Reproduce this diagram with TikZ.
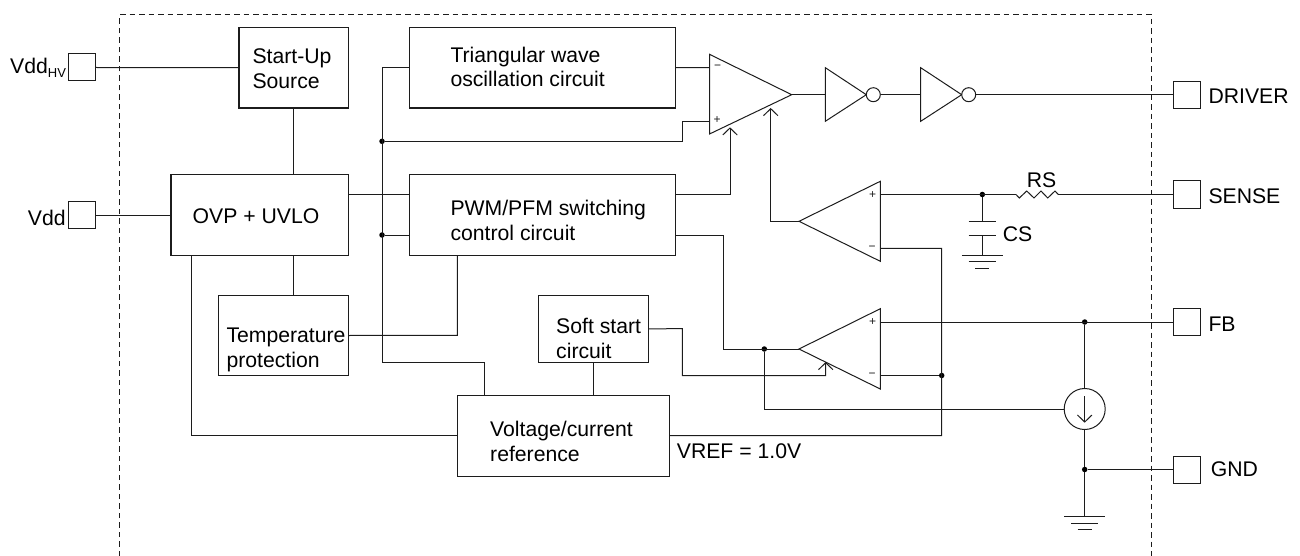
\documentclass[tikz,border=0pt]{standalone}
\usepackage{fontspec}
\setmainfont{Liberation Sans}
\usetikzlibrary{arrows.meta,calc}
\definecolor{ink}{HTML}{1C1C1C}
\tikzset{
  wire/.style={draw=ink,line width=1pt},
  boxn/.style={draw=ink,line width=1.05pt,rectangle,inner sep=0pt,minimum width=#1},
  padn/.style={draw=ink,line width=1pt,rectangle,inner sep=0pt,minimum width=27pt,minimum height=27pt},
  txt/.style={inner sep=0pt,anchor=base west,align=left,text=black,font=\fontsize{21.2}{24.8}\selectfont},
  sgn/.style={inner sep=0pt,text=ink,font=\fontsize{12}{13}\selectfont},
  dotn/.style={circle,fill=black,draw=none,inner sep=0pt,minimum size=5.5pt},
  bub/.style={circle,draw=ink,line width=1pt,fill=white,inner sep=0pt,minimum size=14pt},
  barb/.style={-{Straight Barb[length=7pt,width=14.5pt,line width=1pt]}},
}
\begin{document}
\begin{tikzpicture}[x=1pt,y=-1pt]
\useasboundingbox (0,0) rectangle (1300,556);
% package boundary
\coordinate (bl) at (119.5,556);
\coordinate (tl) at (119.5,15);
\coordinate (tr) at (1151.5,15);
\coordinate (br) at (1151.5,556);
\draw[draw=ink,line width=1pt,dash pattern=on 5.5pt off 4pt] (bl) -- (tl) -- (tr) -- (br);
% blocks
\node[boxn=109.5pt,minimum height=80.5pt] (start) at (293.75,67.75) {};
\node[boxn=177.5pt,minimum height=80.5pt] (ovp) at (259.75,215) {};
\node[boxn=266pt,minimum height=80.5pt] (osc) at (542.3,67.75) {};
\node[boxn=266pt,minimum height=80.5pt] (pwm) at (542.3,215) {};
\node[boxn=130pt,minimum height=80.5pt] (temp) at (283.3,335.5) {};
\node[boxn=109.6pt,minimum height=67pt] (soft) at (593.5,328.8) {};
\node[boxn=211.7pt,minimum height=80.7pt] (ref) at (563.2,435.7) {};
% block texts (multi-line texts sit on the baseline of their last line)
\node[txt] (tstart) at (252.3,88.7) {Start-Up\\Source};
\node[txt] (tovp) at (192.5,223.3) {OVP + UVLO};
\node[txt] (tosc) at (450.3,87) {Triangular wave\\oscillation circuit};
\node[txt] (tpwm) at (450.3,240) {PWM/PFM switching\\control circuit};
\node[txt] (ttemp) at (226.3,367) {Temperature\\protection};
\node[txt] (tsoft) at (556,358) {Soft start\\circuit};
\node[txt] (tref) at (490,461.5) {Voltage/current\\reference};
\node[txt] (tvref) at (676.7,458.7) {VREF = 1.0V};
% pads
\node[padn] (phv) at (82,67.5) {};
\node[padn] (pvdd) at (82,215) {};
\node[padn] (pdrv) at (1187,94.7) {};
\node[padn] (psen) at (1187,194.5) {};
\node[padn] (pfb) at (1187,322) {};
\node[padn] (pgnd) at (1187,469.5) {};
\node[txt] (lhv) at (10,74) {Vdd{\fontsize{13}{14}\selectfont\raisebox{-3.5pt}{HV}}};
\node[txt] (lvdd) at (27.7,225.3) {Vdd};
\node[txt] (ldrv) at (1208.3,104) {DRIVER};
\node[txt] (lsen) at (1208.3,203.3) {SENSE};
\node[txt] (lfb) at (1208.3,331.7) {FB};
\node[txt] (lgnd) at (1210.7,476) {GND};
\node[txt] (lrs) at (1026.7,187.3) {RS};
\node[txt] (lcs) at (1002.7,241) {CS};
% comparators and inverters
\coordinate (a1t) at (709.5,54.3); \coordinate (a1b) at (709.5,134); \coordinate (a1o) at (791.7,94.7);
\coordinate (a1m) at (709.5,67.6); \coordinate (a1p) at (709.5,121.3);
\draw[wire] (a1t) -- (a1b) -- (a1o) -- cycle;
\node[sgn] (a1ms) at (717.5,67.4) {\textminus};
\node[sgn] (a1ps) at (717,120.5) {+};
\coordinate (a2t) at (880.3,181.3); \coordinate (a2b) at (880.3,261.3); \coordinate (a2o) at (799,221.3);
\coordinate (a2p) at (880.3,194.5); \coordinate (a2m) at (880.3,248.3);
\draw[wire] (a2t) -- (a2b) -- (a2o) -- cycle;
\node[sgn] (a2ps) at (872.5,194.6) {+};
\node[sgn] (a2ms) at (872,248) {\textminus};
\coordinate (a3t) at (880.3,308.7); \coordinate (a3b) at (880.3,389); \coordinate (a3o) at (799,349);
\coordinate (a3p) at (880.3,322); \coordinate (a3m) at (880.3,375.5);
\draw[wire] (a3t) -- (a3b) -- (a3o) -- cycle;
\node[sgn] (a3ps) at (872.5,322) {+};
\node[sgn] (a3ms) at (872,375.3) {\textminus};
\coordinate (i1i) at (825.3,94.7);
\draw[wire] (825.3,67.7) -- (825.3,121.3) -- (866.3,94.7) -- cycle;
\node[bub] (b1) at (873.3,94.7) {};
\coordinate (i2i) at (920.7,94.7);
\draw[wire] (920.7,67.7) -- (920.7,121.3) -- (961.7,94.7) -- cycle;
\node[bub] (b2) at (968.7,94.7) {};
% dots
\node[dotn] (d1) at (382,141.3) {};
\node[dotn] (d2) at (382,235) {};
\node[dotn] (d3) at (764.3,349) {};
\node[dotn] (d4) at (941.7,375.5) {};
\node[dotn] (d5) at (982.3,194.5) {};
\node[dotn] (d6) at (1084.7,322) {};
\node[dotn] (d7) at (1084.7,469.5) {};
% current source
\node[circle,draw=ink,line width=1pt,inner sep=0pt,minimum size=41pt] (cs) at (1084.7,409) {};
\coordinate (csa) at (1084.7,396);
\coordinate (csb) at (1084.7,422.7);
\draw[wire,barb] (csa) -- (csb);
% left side wires
\draw[wire] (phv.east) -- (start.west);
\draw[wire] (pvdd.east) -- (ovp.west);
\draw[wire] (start.south) -- (ovp.north -| start.south);
\draw[wire] (ovp.south -| start.south) -- (temp.north -| start.south);
\coordinate (rfl) at (191,435.7);
\draw[wire] (ovp.south -| rfl) -- (rfl) -- (ref.west);
\coordinate (ovpo) at (348.5,194.5);
\draw[wire] (ovpo) -- (pwm.west |- ovpo);
% bus
\coordinate (bust) at (382,67.75);
\coordinate (busb) at (382,362.3);
\coordinate (reft) at (484.3,362.3);
\draw[wire] (osc.west) -- (bust) -- (busb) -- (reft) -- (reft |- ref.north);
\draw[wire] (d2) -- (pwm.west |- d2);
\coordinate (a1pb) at (682.3,141.3);
\draw[wire] (d1) -- (a1pb) -- (a1pb |- a1p) -- (a1p);
\draw[wire] (osc.east) -- (a1m);
\coordinate (pwmb) at (457.3,335.3);
\draw[wire] (pwm.south -| pwmb) -- (pwmb) -- (temp.east);
\draw[wire] (soft.south) -- (ref.north -| soft.south);
% output chain
\draw[wire] (a1o) -- (i1i);
\draw[wire] (b1.east) -- (i2i);
\draw[wire] (b2.east) -- (pdrv.west);
% control arrows
\coordinate (ar1b) at (730,194.5);
\coordinate (ar1t) at (730,127.3);
\draw[wire,barb] (pwm.east |- ar1b) -- (ar1b) -- (ar1t);
\coordinate (ar2b) at (770.7,221.3);
\coordinate (ar2t) at (770.7,108);
\draw[wire,barb] (a2o) -- (ar2b) -- (ar2t);
\coordinate (pwmo) at (723.3,235);
\draw[wire] (pwm.east |- pwmo) -- (pwmo) -- (pwmo |- a3o) -- (a3o);
\coordinate (ss1) at (682.3,328.7);
\coordinate (ss2) at (682.3,375.7);
\coordinate (ss3) at (825.7,375.7);
\coordinate (ss4) at (825.7,362);
\draw[wire,barb] (soft.east) -- (ss1) -- (ss2) -- (ss3) -- (ss4);
% sense input
\coordinate (rl) at (1016,194.5);
\coordinate (rr) at (1058.3,194.5);
\draw[wire] (a2p) -- (rl);
\draw[wire] (rl) -- ++(3.3,3.5) -- ++(7.4,-7) -- ++(7.3,7) -- ++(7,-7) -- ++(6.7,7) -- ++(7.3,-7) -- (rr);
\draw[wire] (rr) -- (psen.west);
% capacitor
\coordinate (c1) at (982.3,221.3);
\coordinate (c2) at (982.3,235);
\coordinate (cg) at (982.3,255);
\draw[wire] (d5) -- (c1);
\draw[wire] ($(c1)+(-13.7,0)$) -- ($(c1)+(13.7,0)$);
\draw[wire] ($(c2)+(-13.7,0)$) -- ($(c2)+(13.7,0)$);
\draw[wire] (c2) -- (cg);
\draw[wire] ($(cg)+(-20.5,0)$) -- ($(cg)+(20.5,0)$);
\draw[wire] ($(cg)+(-13.7,6.7)$) -- ($(cg)+(13.7,6.7)$);
\draw[wire] ($(cg)+(-7,13)$) -- ($(cg)+(7,13)$);
% reference line
\coordinate (vr) at (941.7,435.5);
\coordinate (vrt) at (941.7,248.3);
\draw[wire] (ref.east) -- (vr) -- (vrt) -- (a2m);
\draw[wire] (a3m) -- (d4);
% FB, current source, GND
\draw[wire] (a3p) -- (pfb.west);
\draw[wire] (d6) -- (cs.north);
\draw[wire] (cs.south) -- (d7);
\draw[wire] (d7) -- (pgnd.west);
\coordinate (g) at (1084.7,516);
\draw[wire] (d7) -- (g);
\draw[wire] ($(g)+(-20.5,0)$) -- ($(g)+(20.5,0)$);
\draw[wire] ($(g)+(-13.7,7)$) -- ($(g)+(13.7,7)$);
\draw[wire] ($(g)+(-7,13.5)$) -- ($(g)+(7,13.5)$);
\coordinate (fbk) at (764.3,409);
\draw[wire] (d3) -- (fbk) -- (cs.west);
\end{tikzpicture}
\end{document}
